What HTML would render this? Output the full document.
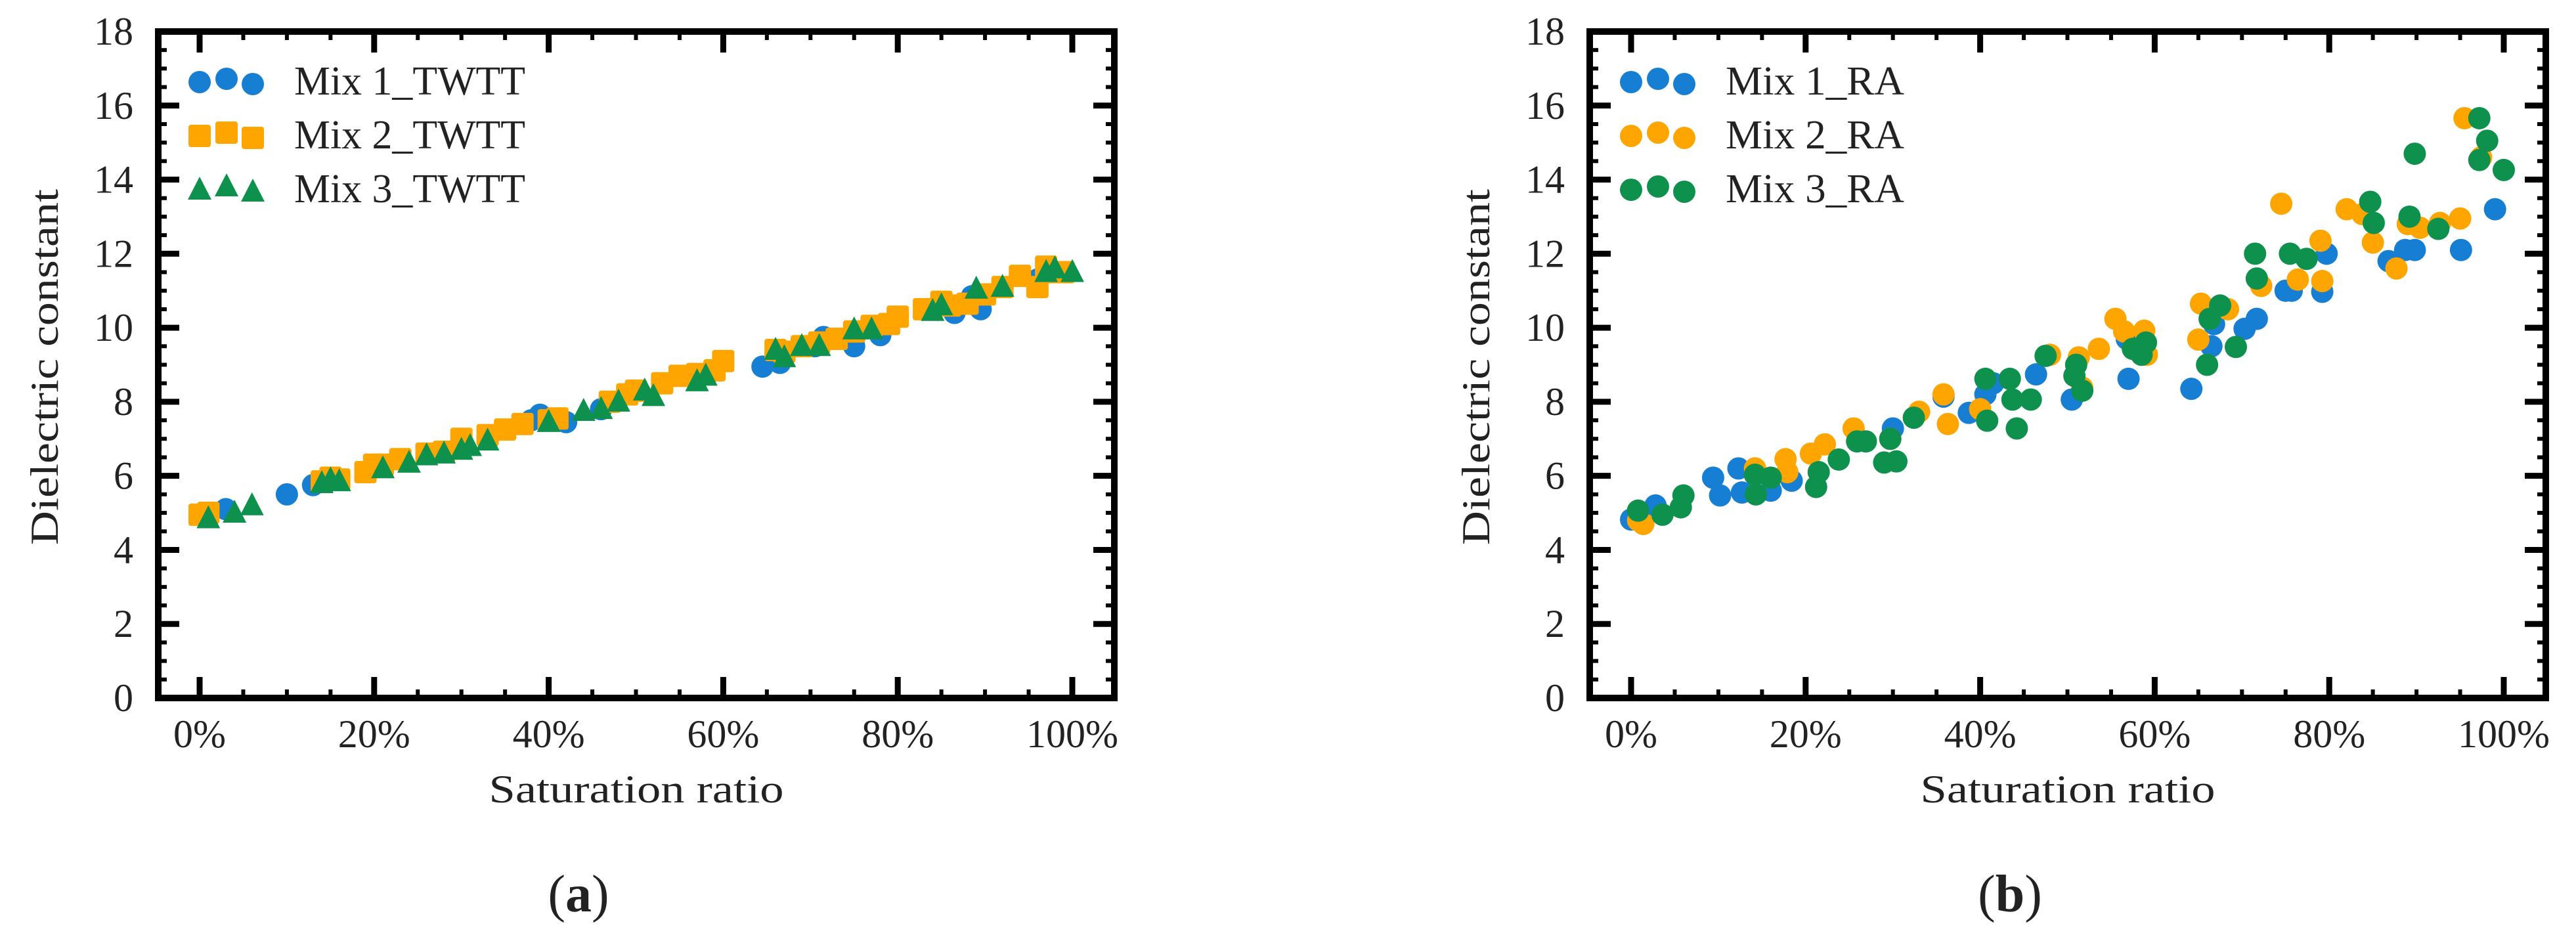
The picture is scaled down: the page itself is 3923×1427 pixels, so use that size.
<!DOCTYPE html>
<html><head><meta charset="utf-8"><style>
html,body{margin:0;padding:0;background:#fff;}
svg{display:block;}
text{font-family:"Liberation Serif","DejaVu Serif",serif;fill:#222;}
</style></head><body>
<svg id="fig" width="3923" height="1427" viewBox="0 0 3923 1427" xmlns="http://www.w3.org/2000/svg"></svg>
<script>
// ---- chart (a) TWTT data ----
const a1x=[0.5,3,10,13,38,39,42,46,64.5,66.5,70.5,71.5,75,78,86.5,88.5,89.5,96];
const a1y=[4.9,5.1,5.5,5.75,7.5,7.65,7.45,7.8,8.95,9.05,9.5,9.75,9.5,9.8,10.4,10.85,10.5,11.3];
const a2x=[0,1,14,15,16,19,20,21,23,26,28,30,33,35,37,40,41,47,49,50,53,55,57,59,60,66,67,69,71,73,75,77,79,80,83,85,86,88,90,92,94,96,97,98,99];
const a2y=[4.95,5.0,5.85,5.95,5.9,6.1,6.3,6.3,6.45,6.6,6.65,7.0,7.1,7.25,7.4,7.5,7.55,8.0,8.2,8.3,8.5,8.7,8.75,8.85,9.1,9.4,9.35,9.5,9.6,9.7,9.9,10.05,10.1,10.3,10.5,10.7,10.6,10.65,10.9,11.1,11.4,11.1,11.65,11.5,11.5];
const a3x=[1,4,6,14,15,16,21,24,26,28,30,31,33,40,44,46,48,51,52,57,58,66,67,69,71,75,77,84,85,89,92,97,98,100];
const a3y=[4.85,5.0,5.2,5.8,5.9,5.85,6.2,6.35,6.55,6.6,6.7,6.8,6.95,7.45,7.75,7.8,8.0,8.3,8.15,8.55,8.7,9.4,9.2,9.5,9.5,9.95,9.95,10.45,10.6,11.05,11.1,11.5,11.6,11.5];
// ---- chart (b) RA data ----
const b1x=[0,2.8,9.4,10.2,12.3,12.7,16,18.4,30,35.8,38.7,40.6,41.5,46.4,50.5,57,56.8,64.2,66.5,66.8,70.3,71.7,75,75.7,79.2,79.7,86.8,88.7,89.8,95.1,99];
const b1y=[4.82,5.2,5.95,5.47,6.2,5.55,5.6,5.87,7.28,8.14,7.7,8.2,8.5,8.74,8.06,8.62,9.7,8.35,9.5,10.1,9.97,10.24,11.0,11.0,10.97,12.0,11.8,12.1,12.1,12.1,13.2];
const b2x=[0.8,1.4,14.2,17.7,17.9,20.6,22.2,25.5,29.7,33,35.8,36.3,40,48,51.3,51.7,53.6,55.5,56.5,58.8,59.1,65,65.3,68.4,72.2,74.5,76.4,79,79.2,82,83.8,85,87.7,89,90.4,92.7,95,95.5,97.4];
const b2y=[4.8,4.7,6.2,6.45,6.1,6.6,6.85,7.28,7.0,7.73,8.2,7.4,7.8,9.27,9.2,8.38,9.43,10.24,9.9,9.92,9.27,9.68,10.65,10.5,11.13,13.35,11.3,12.35,11.26,13.2,13.07,12.3,11.6,12.8,12.7,12.83,12.95,15.66,14.6];
const b3x=[0.8,3.6,5.7,6,14.2,14.3,16,21.2,21.5,23.8,25.9,26.9,29,29.7,30.4,32.4,40.6,40.8,43.4,43.7,44.2,45.8,47.5,51,50.8,51.7,57.5,58.5,59,66,66.3,67.5,69.3,71.5,71.7,75.5,77.4,84.7,85.1,89.2,89.8,92.5,97.2,97.2,98.1,100];
const b3y=[5.06,4.95,5.15,5.47,6.03,5.5,5.95,5.7,6.1,6.44,6.93,6.93,6.36,7.0,6.39,7.57,8.62,7.49,8.62,8.06,7.28,8.06,9.24,9.0,8.7,8.3,9.43,9.27,9.6,9.0,10.24,10.6,9.48,12.0,11.33,12.0,11.86,13.4,12.83,13.0,14.7,12.67,15.66,14.53,15.05,14.26];
const yTicks=[0,2,4,6,8,10,12,14,16,18];
const xTicks=[0,20,40,60,80,100];
const namesA=["Mix 1_TWTT","Mix 2_TWTT","Mix 3_TWTT"];
const namesB=["Mix 1_RA","Mix 2_RA","Mix 3_RA"];
const COL=["#177fd3","#fea500","#0f914e"];
const NS="http://www.w3.org/2000/svg";
const svg=document.getElementById('fig');
function mk(tag,attrs,parent){const e=document.createElementNS(NS,tag);for(const k in attrs)e.setAttribute(k,attrs[k]);(parent||svg).appendChild(e);return e;}

function marker(g,shape,cx,cy,color){
  let e;
  if(shape==='circle'){e=mk('circle',{cx:cx,cy:cy,r:17,fill:color},g);}
  else if(shape==='square'){e=mk('rect',{x:cx-17,y:cy-17,width:34,height:34,rx:4,fill:color},g);}
  else {e=mk('polygon',{points:`${cx},${cy-20} ${cx+18},${cy+15} ${cx-18},${cy+15}`,fill:color},g);}
  return e;
}

function chart(off,label,names,shapes,series,legW){
  const L=241+off,R=1697+off,T=48,B=1063;
  const x0=304+off,x1=1633+off;
  const sx=v=>x0+(x1-x0)*v/100;
  const sy=v=>B-(B-T)*v/18;
  const g=mk('g',{});
  
  
  for(let p=-5;p<=105;p+=5){
    const X=sx(p); if(X<=L+4||X>=R-4) continue;
    const major=(p%20===0);const len=major?32:13;
    mk('line',{x1:X,y1:B,x2:X,y2:B-len,stroke:'#000','stroke-width':major?9:6},g);
    mk('line',{x1:X,y1:T,x2:X,y2:T+len,stroke:'#000','stroke-width':major?9:6},g);
  }
  for(let v=0.5;v<18;v+=0.5){
    const Y=sy(v);const major=(v%2===0);const len=major?32:13;
    mk('line',{x1:L,y1:Y,x2:L+len,y2:Y,stroke:'#000','stroke-width':major?9:6},g);
    mk('line',{x1:R,y1:Y,x2:R-len,y2:Y,stroke:'#000','stroke-width':major?9:6},g);
  }
  const frame=mk('rect',{x:L,y:T,width:R-L,height:B-T,fill:'none',stroke:'#000','stroke-width':10},g);
  
  
  yTicks.forEach(v=>{
    const t=mk('text',{x:L-38,y:sy(v)+20,'text-anchor':'end','font-size':60},g);t.textContent=v;
    
    
  });
  xTicks.forEach(v=>{
    const t=mk('text',{x:sx(v),y:1138,'text-anchor':'middle','font-size':60},g);t.textContent=v+'%';
    
    
  });
  const xt=mk('text',{x:(L+R)/2,y:1222,'text-anchor':'middle','font-size':60,textLength:449,lengthAdjust:'spacingAndGlyphs'},g);
  xt.textContent='Saturation ratio';
  
  
  const yt=mk('text',{x:0,y:0,'text-anchor':'middle','font-size':60,textLength:542,lengthAdjust:'spacingAndGlyphs',transform:`translate(${88+off},559) rotate(-90)`},g);
  yt.textContent='Dielectric constant';
  
  
  series.forEach((s,i)=>{
    const sg=mk('g',{},g);
    
    
    s[0].forEach((xv,j)=>{
      const m=marker(sg,shapes[i],sx(xv),sy(s[1][j]),COL[i]);
      
      
    });
  });
  const lg=mk('g',{},g);
  
  
  names.forEach((n,i)=>{
    const base=125+i*82;
    const e=mk('g',{},lg);
    
    
    const mx=[304,345,385];const dy=[0,-5,3];
    mx.forEach((m,k)=>marker(e,shapes[i],m+off,base+dy[k],COL[i]));
    const t=mk('text',{x:448+off,y:base+19,'font-size':62,textLength:legW,lengthAdjust:'spacingAndGlyphs'},e);t.textContent=n;
  });
  const cap=mk('text',{x:(L+R)/2-88,y:1388,'text-anchor':'middle','font-size':80},g);
  cap.innerHTML='(<tspan font-weight="bold">'+label+'</tspan>)';
  
  
}
chart(0,'a',namesA,['circle','square','triangle'],[[a1x,a1y],[a2x,a2y],[a3x,a3y]],352);
chart(2180,'b',namesB,['circle','circle','circle'],[[b1x,b1y],[b2x,b2y],[b3x,b3y]],272);
</script>
</body></html>
